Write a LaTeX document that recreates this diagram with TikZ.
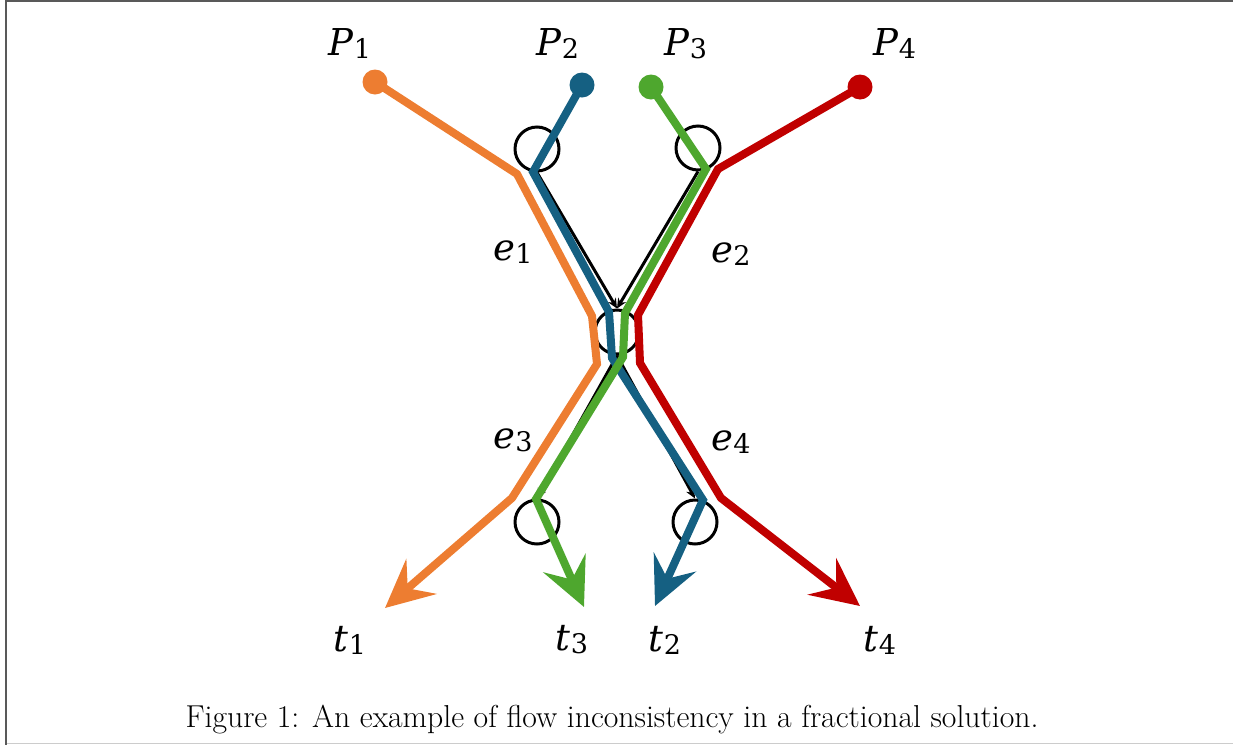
\documentclass[tikz,border=0pt]{standalone}
\usepackage{fontspec}
\newfontfamily\labfont{DejaVu Serif}
\usetikzlibrary{arrows.meta}
\definecolor{cOrange}{HTML}{ED7D31}
\definecolor{cBlue}{HTML}{156082}
\definecolor{cGreen}{HTML}{4EA72E}
\definecolor{cRed}{HTML}{C00000}
\newcommand{\lbl}[2]{{\labfont\fontsize{37}{44}\selectfont\itshape #1}\raisebox{-0.3em}{\labfont\fontsize{27}{30}\selectfont #2}}
\tikzset{
  vtx/.style={circle,draw=black,line width=3pt,minimum size=44pt,inner sep=0pt},
  bedge/.style={draw=black,line width=3pt,-{Stealth[length=10pt,width=9pt]}},
  flow/.style={line width=8pt,line join=miter,-{Stealth[length=48pt,width=46pt,inset=18pt]}},
  dotnode/.style={circle,fill=#1,minimum size=25pt,inner sep=0pt},
  lab/.style={inner sep=0pt},
}
\begin{document}
\begin{tikzpicture}[x=1pt,y=-1pt]
\useasboundingbox (0,0) rectangle (1233,745);
% frame
\draw[draw=black!65,line width=2pt] (6,1) -- (1233,1);
\draw[draw=black!65,line width=2pt] (6,0) -- (6,745);
\draw[draw=black!20,line width=1pt] (7,743.5) -- (1233,743.5);
% vertices
\node[vtx] (A) at (537,149) {};
\node[vtx] (B) at (698,148) {};
\node[vtx] (C) at (617,332) {};
\node[vtx] (D) at (537,522) {};
\node[vtx] (E) at (695,522) {};
% black edges
\draw[bedge] (A.south) -- (C.north);
\draw[bedge] (B.south) -- (C.north);
\draw[bedge] (C.south) -- (D.north);
\draw[bedge] (C.south) -- (E.north);
% path coordinates
\coordinate (o1) at (517,174); \coordinate (o2) at (592,316); \coordinate (o3) at (597,364); \coordinate (o4) at (512,498); \coordinate (o5) at (385,608);
\coordinate (b1) at (533,172); \coordinate (b2) at (609,312); \coordinate (b3) at (612,358); \coordinate (b4) at (703,500); \coordinate (b5) at (655,606);
\coordinate (g1) at (706,169); \coordinate (g2) at (625,313); \coordinate (g3) at (623,357); \coordinate (g4) at (536,499); \coordinate (g5) at (584,607);
\coordinate (r1) at (718,169); \coordinate (r2) at (638,315); \coordinate (r3) at (640,363); \coordinate (r4) at (721,498); \coordinate (r5) at (860,606);
% start dots
\node[dotnode=cOrange] (s1) at (375,82) {};
\node[dotnode=cBlue] (s2) at (582,85) {};
\node[dotnode=cGreen] (s3) at (651,87) {};
\node[dotnode=cRed] (s4) at (860,87) {};
% flows
\draw[flow,cOrange] (s1.center) -- (o1) -- (o2) -- (o3) -- (o4) -- (o5);
\draw[flow,cBlue] (s2.center) -- (b1) -- (b2) -- (b3) -- (b4) -- (b5);
\draw[flow,cGreen] (s3.center) -- (g1) -- (g2) -- (g3) -- (g4) -- (g5);
\draw[flow,cRed] (s4.center) -- (r1) -- (r2) -- (r3) -- (r4) -- (r5);
% labels
\node[lab] (P1) at (350,44) {\lbl{P}{1}};
\node[lab] (P2) at (558,44) {\lbl{P}{2}};
\node[lab] (P3) at (686,44) {\lbl{P}{3}};
\node[lab] (P4) at (895,44) {\lbl{P}{4}};
\node[lab] (e1) at (513,252) {\lbl{e}{1}};
\node[lab] (e2) at (731,254) {\lbl{e}{2}};
\node[lab] (e3) at (513,440) {\lbl{e}{3}};
\node[lab] (e4) at (731,442) {\lbl{e}{4}};
\node[lab] (t1) at (350,640) {\lbl{t}{1}};
\node[lab] (t3) at (572,640) {\lbl{t}{3}};
\node[lab] (t2) at (665,640) {\lbl{t}{2}};
\node[lab] (t4) at (880,640) {\lbl{t}{4}};
% caption
\node[inner sep=0pt,font=\fontsize{31.7}{38}\selectfont] (cap) at (612,720) {Figure 1: An example of flow inconsistency in a fractional solution.};
\end{tikzpicture}
\end{document}
